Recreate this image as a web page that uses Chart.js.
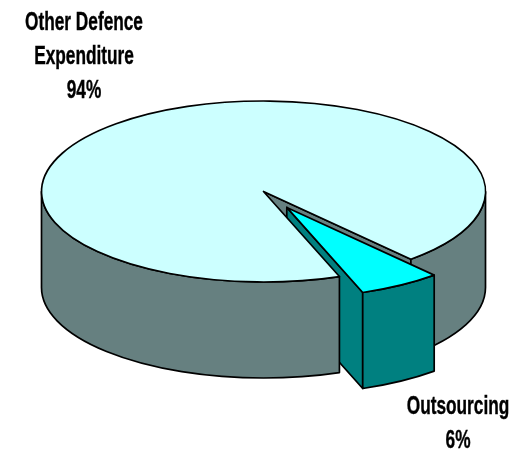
<!DOCTYPE html>
<html>
<head>
<meta charset="utf-8">
<style>html,body{margin:0;padding:0;background:#fff}canvas{display:block}</style>
<script src="https://cdn.jsdelivr.net/npm/chart.js@4/dist/chart.umd.min.js"></script>
</head>
<body>
<canvas id="c" width="518" height="452"></canvas>
<script>
const categories = ['Other Defence Expenditure', 'Outsourcing'];
const shares = [94, 6];
const labelLines = [['Other Defence', 'Expenditure', '94%'], ['Outsourcing', '6%']];
const topColours = ['#CCFFFF', '#00FFFF'];
const wallColours = ['#668080', '#008080'];

const SQUASH = 90.5 / 222, DEPTH = 96, EXPLODE = [0, 45.5], LINE = 1.7;
const FONT = 'bold 25px "Liberation Sans", Arial, sans-serif';
let centreY = 0;

function props(el) {
  const p = el.getProps(['x', 'y', 'startAngle', 'endAngle', 'outerRadius']);
  return { a0: p.startAngle, a1: p.endAngle, r: p.outerRadius, cx: p.x,
           cy: centreY + (p.y - centreY) * SQUASH, ry: p.outerRadius * SQUASH };
}
function rim(ctx, s, a0, a1, colour) {
  ctx.beginPath();
  ctx.ellipse(s.cx, s.cy, s.r, s.ry, 0, a0, a1, false);
  ctx.ellipse(s.cx, s.cy + DEPTH, s.r, s.ry, 0, a1, a0, true);
  ctx.closePath();
  ctx.fillStyle = colour; ctx.fill(); ctx.stroke();
}
function face(ctx, s, a, colour) {
  const x = s.cx + Math.cos(a) * s.r, y = s.cy + Math.sin(a) * s.ry;
  ctx.beginPath();
  ctx.moveTo(s.cx, s.cy); ctx.lineTo(x, y); ctx.lineTo(x, y + DEPTH); ctx.lineTo(s.cx, s.cy + DEPTH);
  ctx.closePath();
  ctx.fillStyle = colour; ctx.fill(); ctx.stroke();
}
function outline(ctx, s) {
  ctx.beginPath();
  ctx.moveTo(s.cx, s.cy);
  ctx.ellipse(s.cx, s.cy, s.r, s.ry, 0, s.a0, s.a1, false);
  ctx.closePath();
  ctx.stroke();
}

const pie3d = {
  id: 'pie3d',
  afterDatasetsUpdate(chart) {
    // pull each arc out along its own middle angle
    const arcs = chart.getDatasetMeta(0).data;
    centreY = (chart.chartArea.top + chart.chartArea.bottom) / 2;
    arcs.forEach((a, i) => {
      const mid = (a.startAngle + a.endAngle) / 2;
      a.x += Math.cos(mid) * EXPLODE[i];
      a.y += Math.sin(mid) * EXPLODE[i];
    });
  },
  beforeDatasetsDraw(chart) {
    const ctx = chart.ctx, arcs = chart.getDatasetMeta(0).data;
    const main = props(arcs[0]), slice = props(arcs[1]);
    ctx.save();
    ctx.strokeStyle = '#000'; ctx.lineWidth = LINE; ctx.lineJoin = 'round';
    const TWO = Math.PI * 2;
    // back to front: the cut face, the far wall, the wedge, the near wall
    face(ctx, main, main.a1, wallColours[0]);
    rim(ctx, main, 0, main.a1 - TWO, wallColours[0]);
    face(ctx, slice, slice.a1, wallColours[1]);
    rim(ctx, slice, slice.a0, slice.a1, wallColours[1]);
    rim(ctx, main, main.a0, Math.PI, wallColours[0]);
    ctx.restore();
    // squash the library's circular arcs into the ellipse of the top face
    ctx.save();
    ctx.translate(0, centreY); ctx.scale(1, SQUASH); ctx.translate(0, -centreY);
  },
  afterDatasetsDraw(chart) {
    const ctx = chart.ctx, arcs = chart.getDatasetMeta(0).data;
    ctx.restore();
    ctx.save();
    ctx.strokeStyle = '#000'; ctx.lineWidth = LINE; ctx.lineJoin = 'round';
    arcs.forEach(a => outline(ctx, props(a)));
    ctx.restore();
  },
  afterDraw(chart, _a, opts) {
    const ctx = chart.ctx;
    ctx.save();
    ctx.fillStyle = '#000'; ctx.strokeStyle = '#000'; ctx.lineWidth = 0.4;
    ctx.font = FONT; ctx.textAlign = 'center'; ctx.textBaseline = 'alphabetic';
    labelLines.forEach((lines, i) => {
      const pos = opts.anchors[i];
      lines.forEach((t, j) => {
        ctx.save();
        ctx.translate(pos.x, pos.y + j * opts.leading);
        ctx.scale(opts.narrow, 1);
        ctx.fillText(t, 0, 0);
        ctx.strokeText(t, 0, 0);
        ctx.restore();
      });
    });
    ctx.restore();
  }
};

new Chart(document.getElementById('c'), {
  type: 'pie',
  data: {
    labels: categories,
    datasets: [{
      data: shares,
      backgroundColor: topColours,
      borderWidth: 0,
      hoverOffset: 0,
      clip: false
    }]
  },
  options: {
    responsive: false,
    animation: false,
    rotation: 160,
    radius: 222,
    layout: { padding: { left: 9, bottom: 69 } },
    events: [],
    plugins: {
      legend: { display: false },
      tooltip: { enabled: false },
      pie3d: { anchors: [{ x: 84, y: 29.5 }, { x: 458, y: 413.5 }], leading: 34.4, narrow: 0.69 }
    }
  },
  plugins: [pie3d]
});
</script>
</body>
</html>
